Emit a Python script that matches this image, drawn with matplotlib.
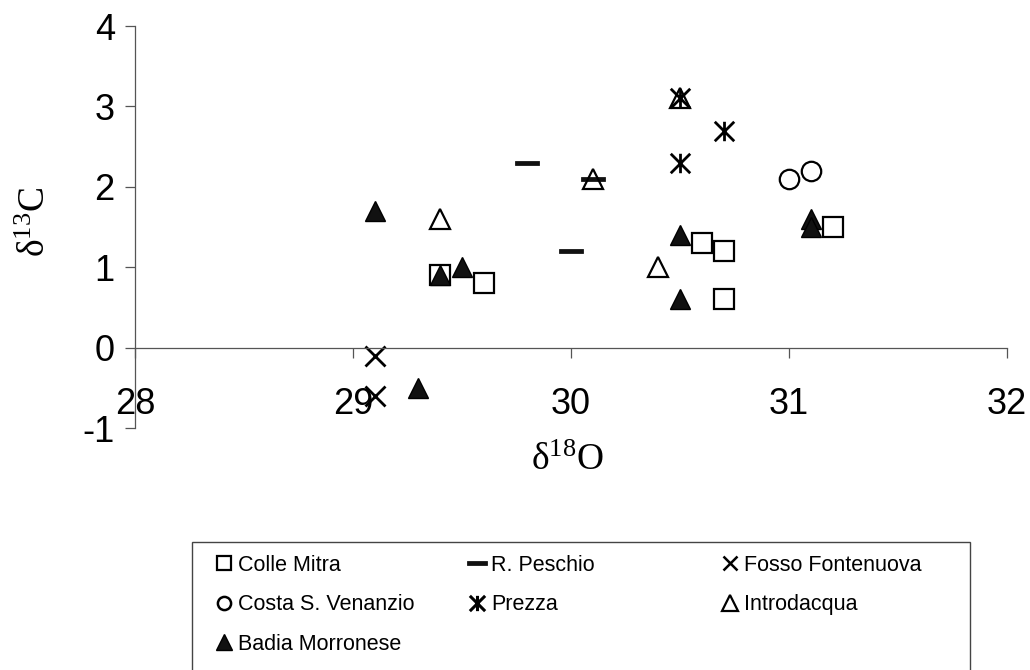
import matplotlib
matplotlib.use('Agg')
import matplotlib.pyplot as plt
from matplotlib.lines import Line2D
from matplotlib.path import Path
from matplotlib.patches import Rectangle

plt.rcParams['font.family'] = 'Liberation Sans'
plt.rcParams['mathtext.fontset'] = 'custom'
plt.rcParams['mathtext.rm'] = 'Liberation Serif'
plt.rcParams['mathtext.it'] = 'Liberation Serif:italic'

# data (delta 18O, delta 13C)
colle_x = [29.4, 29.6, 30.6, 30.7, 30.7, 31.2]
colle_y = [0.9, 0.8, 1.3, 1.2, 0.6, 1.5]
peschio_x = [29.8, 30.0, 30.1]
peschio_y = [2.3, 1.2, 2.1]
fosso_x = [29.1, 29.1]
fosso_y = [-0.1, -0.6]
costa_x = [31.0, 31.1]
costa_y = [2.1, 2.2]
prezza_x = [30.5, 30.7, 30.5]
prezza_y = [3.1, 2.7, 2.3]
intro_x = [30.5, 30.1, 29.4, 30.4]
intro_y = [3.1, 2.1, 1.6, 1.0]
badia_x = [29.1, 29.4, 29.5, 29.3, 30.5, 30.5, 31.1, 31.1]
badia_y = [1.7, 0.9, 1.0, -0.5, 1.4, 0.6, 1.6, 1.5]

x_ticks = [28, 29, 30, 31, 32]
y_ticks = [-1, 0, 1, 2, 3, 4]

# custom markers: asterisk (X plus vertical bar) and flat dash
star = Path([(-1, -1), (1, 1), (-1, 1), (1, -1), (0, -1), (0, 1)],
            [Path.MOVETO, Path.LINETO, Path.MOVETO, Path.LINETO, Path.MOVETO, Path.LINETO])
dash = Path([(-1, -0.2), (1, -0.2), (1, 0.2), (-1, 0.2), (-1, -0.2)],
            [Path.MOVETO, Path.LINETO, Path.LINETO, Path.LINETO, Path.CLOSEPOLY])

W, H = 1030, 670
fig = plt.figure(figsize=(W / 100, H / 100), dpi=100)
ax = fig.add_axes([135 / W, 1 - 428 / H, 872 / W, 402 / H])

styles = {
    'Colle Mitra': dict(marker='s', ms=14, mfc='none', mew=1.6),
    'R. Peschio': dict(marker=dash, ms=17, mfc='#111111', mew=0.5),
    'Fosso Fontenuova': dict(marker='x', ms=14, mew=2),
    'Costa S. Venanzio': dict(marker='o', ms=14, mfc='none', mew=1.6),
    'Prezza': dict(marker=star, ms=14, mfc='none', mew=2),
    'Introdacqua': dict(marker='^', ms=15, mfc='none', mew=1.6),
    'Badia Morronese': dict(marker='^', ms=15, mfc='#111111', mew=1),
}
data = [
    ('Colle Mitra', colle_x, colle_y),
    ('R. Peschio', peschio_x, peschio_y),
    ('Fosso Fontenuova', fosso_x, fosso_y),
    ('Costa S. Venanzio', costa_x, costa_y),
    ('Prezza', prezza_x, prezza_y),
    ('Introdacqua', intro_x, intro_y),
    ('Badia Morronese', badia_x, badia_y),
]
for name, xs, ys in data:
    ax.plot(xs, ys, ls='none', mec='black', clip_on=False, **styles[name])

ax.set_xlim(28, 32)
ax.set_ylim(-1, 4)
ax.set_xticks(x_ticks)
ax.set_yticks(y_ticks)
ax.set_xticklabels([str(t) for t in x_ticks])
ax.set_yticklabels([str(t) for t in y_ticks])
ax.spines['top'].set_visible(False)
ax.spines['right'].set_visible(False)
ax.spines['bottom'].set_position(('data', 0))
for s in ('left', 'bottom'):
    ax.spines[s].set_color('#555555')
    ax.spines[s].set_linewidth(0.9)
ax.tick_params(axis='both', direction='out', length=7.5, width=0.9, color='#555555',
               labelsize=26, labelcolor='black')
ax.tick_params(axis='x', pad=21)
ax.tick_params(axis='y', pad=7)

fig.text(567 / W, 1 - 470 / H, r'$\mathregular{\delta^{18}O}$', ha='center', va='baseline',
         fontsize=27, family='Liberation Serif')
fig.text(36 / W, 1 - 222 / H, r'$\mathregular{\delta^{13}C}$', ha='center', va='center',
         rotation=90, fontsize=27, family='Liberation Serif')

# legend: frame plus three columns of equal width
fig.patches.append(Rectangle((192 / W, -2 / H), 778 / W, 130 / H, transform=fig.transFigure,
                             fill=False, edgecolor='#444444', linewidth=1))

leg_sizes = {
    'Colle Mitra': dict(marker='s', ms=9.5, mfc='none', mew=1.6),
    'R. Peschio': dict(marker=dash, ms=15, mfc='#111111', mew=0.5),
    'Fosso Fontenuova': dict(marker='x', ms=9.5, mew=1.8),
    'Costa S. Venanzio': dict(marker='o', ms=9.5, mfc='none', mew=1.8),
    'Prezza': dict(marker=star, ms=11, mfc='none', mew=2.2),
    'Introdacqua': dict(marker='^', ms=11, mfc='none', mew=1.6),
    'Badia Morronese': dict(marker='^', ms=12, mfc='#111111', mew=1),
}
columns = [
    (213, ['Colle Mitra', 'Costa S. Venanzio', 'Badia Morronese']),
    (466, ['R. Peschio', 'Prezza']),
    (719, ['Fosso Fontenuova', 'Introdacqua']),
]
for x0, names in columns:
    handles = [Line2D([], [], ls='none', mec='black', **leg_sizes[n]) for n in names]
    fig.legend(handles, names, loc='upper left', bbox_to_anchor=(x0 / W, 1 - 555 / H),
               frameon=False, borderpad=0, borderaxespad=0, handlelength=1.0,
               handletextpad=0.15, labelspacing=0.85, fontsize=15.5)

fig.savefig('out.png', dpi=100)
